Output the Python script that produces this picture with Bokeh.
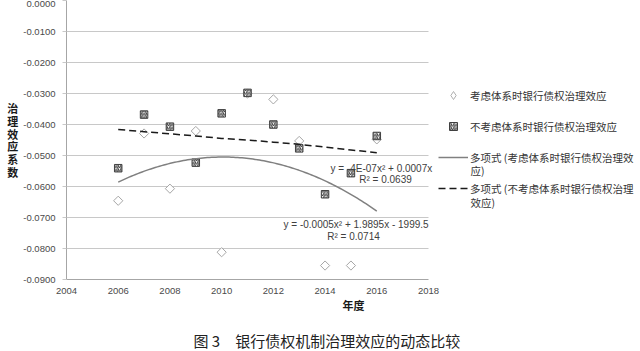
import numpy as np
from bokeh.plotting import figure
from bokeh.layouts import column
from bokeh.models import Label, Legend, LegendItem, FixedTicker, PrintfTickFormatter
from bokeh.embed import file_html
from bokeh.resources import INLINE

# ---------------- data ----------------
years = [2006, 2007, 2008, 2009, 2010, 2011, 2012, 2013, 2014, 2015, 2016]
with_system = [-0.0646, -0.0429, -0.0607, -0.0421, -0.0812, -0.0300, -0.0319,
               -0.0453, -0.0855, -0.0855, -0.0448]
without_system = [-0.0541, -0.0368, -0.0407, -0.0523, -0.0364, -0.0298, -0.0400,
                  -0.0477, -0.0625, -0.0557, -0.0437]
# dashed polynomial trend as drawn in the picture
trend_without = [-0.0416, -0.0423, -0.0430, -0.0437, -0.0445, -0.0450, -0.0457,
                 -0.0464, -0.0473, -0.0482, -0.0491]
x_ticks = [2004, 2006, 2008, 2010, 2012, 2014, 2016, 2018]
y_ticks = [-0.09, -0.08, -0.07, -0.06, -0.05, -0.04, -0.03, -0.02, -0.01, 0.0]
grid_ticks = [-0.09, -0.08, -0.07, -0.06, -0.05, -0.04, -0.03, -0.02, -0.01]
name_with = "考虑体系时银行债权治理效应"
name_without = "不考虑体系时银行债权治理效应"
trend_with_1 = "多项式 (考虑体系时银行债权治理效"
trend_with_2 = "应)"
trend_without_1 = "多项式 (不考虑体系时银行债权治理"
trend_without_2 = "效应)"
eq_without = "y = -4E-07x² + 0.0007x"
r2_without = "R² = 0.0639"
eq_with = "y = -0.0005x² + 1.9895x - 1999.5"
r2_with = "R² = 0.0714"
y_title = "治\n理\n效\n应\n系\n数"
x_title = "年度"
caption = "图 3\u3000银行债权机制治理效应的动态比较"

# ---------------- layout helpers ----------------
W, H_MAIN, H_CAP = 640, 325, 26
FL, FT, FB = 66, 0, 279
PX_PER_YEAR = (428 - 66) / 14.0
X_START = 2004
X_END = X_START + (W - FL) / PX_PER_YEAR
Y_START, Y_END = -0.09, 0.0


def dx(px):
    return X_START + (px - FL) / PX_PER_YEAR


def dy(py):
    return Y_START + (FB - py) / (FB - FT) * (Y_END - Y_START)


p = figure(width=W, height=H_MAIN, x_range=(X_START, X_END), y_range=(Y_START, Y_END),
           output_backend="svg", toolbar_location=None,
           min_border_left=FL, min_border_right=0,
           min_border_top=FT, min_border_bottom=H_MAIN - FB)
p.outline_line_color = None
p.background_fill_color = "white"
p.border_fill_color = "white"

p.xgrid.visible = False
p.ygrid.grid_line_color = "#c8c8c8"
p.ygrid.ticker = FixedTicker(ticks=grid_ticks)
p.ygrid.cross_bounds = (2004, 2018)

p.yaxis.ticker = FixedTicker(ticks=y_ticks)
p.yaxis.formatter = PrintfTickFormatter(format="%.4f")
p.yaxis.axis_line_color = "#a6a6a6"
p.yaxis.major_tick_line_color = "#c8c8c8"
p.yaxis.major_tick_out = 4
p.yaxis.major_tick_in = 0
p.yaxis.minor_tick_line_color = None
p.yaxis.major_label_standoff = 7
p.yaxis.axis_label = y_title
p.yaxis.axis_label_orientation = "horizontal"
p.yaxis.axis_label_standoff = 2
p.yaxis.axis_label_text_font = "Noto Sans CJK SC"
p.yaxis.axis_label_text_font_size = "11px"
p.yaxis.axis_label_text_font_style = "bold"
p.yaxis.axis_label_text_color = "#1a1a1a"
p.yaxis.axis_label_text_line_height = 0.8

p.xaxis.ticker = FixedTicker(ticks=x_ticks)
p.xaxis.bounds = (2004, 2018)
p.xaxis.axis_line_color = "#a6a6a6"
p.xaxis.major_tick_out = 0
p.xaxis.major_tick_in = 0
p.xaxis.minor_tick_line_color = None
p.xaxis.major_label_standoff = 8
p.xaxis.axis_label = x_title
p.xaxis.axis_label_standoff = 0
p.xaxis.axis_label_text_font = "Noto Sans CJK SC"
p.xaxis.axis_label_text_font_size = "11px"
p.xaxis.axis_label_text_font_style = "bold"
p.xaxis.axis_label_text_color = "#1a1a1a"

for ax in (p.xaxis, p.yaxis):
    ax.major_label_text_font = "Liberation Sans"
    ax.major_label_text_font_size = "9.5px"
    ax.major_label_text_color = "#4a4a4a"

# ---------------- glyphs ----------------
r_with = p.scatter(years, with_system, marker="square", angle=np.pi / 4, size=6.5,
                   fill_color="white", line_color="#a6a6a6", line_width=1)
r_without = p.scatter(years, without_system, marker="square", size=7.5,
                      fill_color="white", line_color="#404040", line_width=1,
                      hatch_pattern="/", hatch_color="#333333", hatch_scale=3.5,
                      hatch_weight=1)
# hidden renderer of the same series, only used for the legend's diamond key
r_with_key = p.scatter(years, with_system, marker="diamond", size=8,
                       fill_color="white", line_color="#b0b0b0", line_width=1,
                       visible=False)

xs = np.array(years, dtype=float) - 2004
xx = np.linspace(2006, 2016, 120)
c_with = np.polyfit(xs, with_system, 2)
r_tw = p.line(xx, np.polyval(c_with, xx - 2004), line_color="#808080", line_width=1.5)
r_two = p.line(years, trend_without, line_color="#1a1a1a", line_width=1.5,
               line_dash="7 4")

# ---------------- legend ----------------
legend = Legend(items=[
    LegendItem(label=name_with, renderers=[r_with_key]),
    LegendItem(label=name_without, renderers=[r_without]),
    LegendItem(label=trend_with_1, renderers=[r_tw]),
    LegendItem(label=trend_without_1, renderers=[r_two]),
], location=(438 - FL, FB - 198), orientation="vertical")
legend.glyph_width = 30
legend.glyph_height = 20
legend.label_height = 20
legend.spacing = 11
legend.label_standoff = 2
legend.padding = 0
legend.margin = 0
legend.border_line_alpha = 0
legend.background_fill_alpha = 0
legend.inactive_fill_alpha = 0
legend.label_text_font = "Noto Sans CJK SC"
legend.label_text_font_size = "10.5px"
legend.label_text_color = "#333333"
p.add_layout(legend)


def add_label(text, px, py, size="10px", font="Liberation Sans", align="left",
              color="#404040", style="normal"):
    p.add_layout(Label(x=dx(px), y=dy(py), text=text, text_align=align,
                       text_baseline="middle", text_font_size=size, text_font=font,
                       text_color=color, text_font_style=style))


add_label(trend_with_2, 470, 170, size="10.5px", font="Noto Sans CJK SC", color="#333333")
add_label(trend_without_2, 470, 202, size="10.5px", font="Noto Sans CJK SC", color="#333333")

add_label(eq_without, 330, 168)
add_label(r2_without, 385, 179, align="center")
add_label(eq_with, 283, 224)
add_label(r2_with, 353, 236, align="center")

# ---------------- caption strip (frame aligned with the main frame) ----------------
cap = figure(width=W, height=H_CAP, x_range=(FL, W), y_range=(0, H_CAP),
             output_backend="svg", toolbar_location=None,
             min_border_left=FL, min_border_right=0, min_border_top=0, min_border_bottom=0,
             x_axis_location=None, y_axis_location=None)
cap.grid.visible = False
cap.outline_line_color = None
cap.border_fill_color = "white"
cap.background_fill_color = "white"
cap.add_layout(Label(x=193, y=H_CAP - (340 - H_MAIN), text=caption, text_align="left",
                     text_baseline="middle", text_font="Noto Sans CJK SC",
                     text_font_size="15px", text_color="#222222"))

open("out.html", "w").write(file_html(column(p, cap, spacing=0), INLINE))
